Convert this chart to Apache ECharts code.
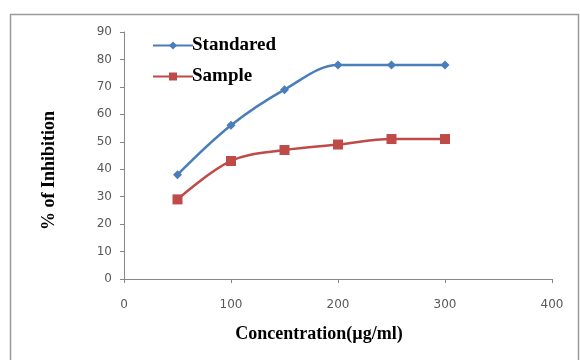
<!DOCTYPE html>
<html>
<head>
<meta charset="utf-8">
<script src="https://cdn.jsdelivr.net/npm/echarts@6/dist/echarts.min.js"></script>
<style>
html, body { margin: 0; padding: 0; background: #fff; }
#chart { width: 580px; height: 360px; }
</style>
</head>
<body>
<div id="chart"></div>
<script>
// concentrations (µg/ml)
const concentration = [50, 100, 150, 200, 250, 300];
const standared = [38, 56, 69, 78, 78, 78];
const sample = [29, 43, 47, 49, 51, 51];

const toPairs = (xs, ys) => xs.map((x, i) => [x, ys[i]]);

const myChart = echarts.init(document.getElementById('chart'));

const axisLabelStyle = {
    color: '#595959',
    fontFamily: 'DejaVu Sans',
    fontSize: 12
};

const titleStyle = {
    color: '#000',
    fontFamily: 'Liberation Serif',
    fontWeight: 'bold'
};

const option = {
    animation: false,
    grid: { left: 124, right: 28, top: 32, bottom: 81 },
    graphic: [{
        type: 'rect',
        shape: { x: 10.5, y: 14.5, width: 568, height: 360 },
        style: { fill: 'none', stroke: '#9a9a9a', lineWidth: 1.5 },
        silent: true
    }],
    legend: {
        orient: 'vertical',
        left: 147,
        top: 31,
        itemWidth: 40,
        itemHeight: 10,
        itemGap: 12,
        textStyle: Object.assign({ fontSize: 19, padding: [0, 0, 0, -6] }, titleStyle),
        data: ['Standared', 'Sample']
    },
    xAxis: {
        type: 'value',
        min: 0,
        max: 400,
        interval: 100,
        name: 'Concentration(µg/ml)',
        nameLocation: 'middle',
        nameGap: 46,
        nameTextStyle: Object.assign({ fontSize: 18, padding: [0, 38, 0, 0] }, titleStyle),
        splitLine: { show: false },
        axisLine: { lineStyle: { color: '#868686' } },
        axisTick: { show: true, length: 4, lineStyle: { color: '#868686' } },
        axisLabel: Object.assign({ margin: 20 }, axisLabelStyle)
    },
    yAxis: {
        type: 'value',
        min: 0,
        max: 90,
        interval: 10,
        name: '% of Inhibition',
        nameLocation: 'middle',
        nameGap: 66,
        nameTextStyle: Object.assign({ fontSize: 18, padding: [0, 30, 0, 0] }, titleStyle),
        splitLine: { show: false },
        axisLine: { show: true, lineStyle: { color: '#868686' } },
        axisTick: { show: true, length: 4, lineStyle: { color: '#868686' } },
        axisLabel: Object.assign({ margin: 12 }, axisLabelStyle)
    },
    series: [
        {
            name: 'Standared',
            type: 'line',
            smooth: 0.35,
            symbol: 'diamond',
            symbolSize: 9,
            color: '#4a7ebb',
            lineStyle: { width: 2.5, color: '#4a7ebb' },
            itemStyle: { color: '#4a7ebb' },
            data: toPairs(concentration, standared)
        },
        {
            name: 'Sample',
            type: 'line',
            smooth: 0.35,
            symbol: 'rect',
            symbolSize: 10,
            color: '#be4b48',
            lineStyle: { width: 2.5, color: '#be4b48' },
            itemStyle: { color: '#be4b48' },
            data: toPairs(concentration, sample)
        }
    ]
};

myChart.setOption(option);
</script>
</body>
</html>
